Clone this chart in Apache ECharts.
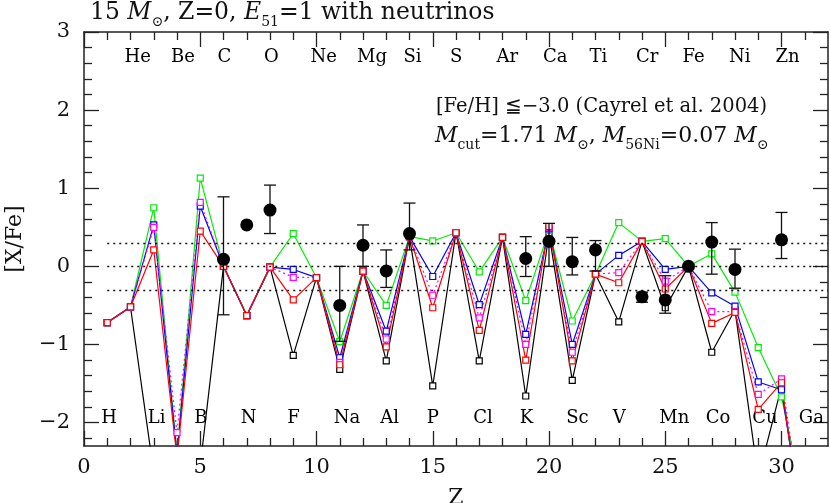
<!DOCTYPE html>
<html><head><meta charset="utf-8">
<script src="https://cdn.jsdelivr.net/npm/echarts@6/dist/echarts.min.js"></script>
<style>html,body{margin:0;padding:0;background:#fff}#c{width:830px;height:503px}</style>
</head><body><div id="c"></div>
<script>
// ---- data ----
const elements = ['H','He','Li','Be','B','C','N','O','F','Ne','Na','Mg','Al','Si','P','S','Cl','Ar','K','Ca','Sc','Ti','V','Cr','Mn','Fe','Co','Ni','Cu','Zn','Ga'];
const Zs = elements.map((e, i) => i + 1);
const modelBlack   = [-0.72,-0.52,-2.64,-5.0,-2.55,0.0,-0.63,-0.01,-1.14,-0.145,-1.32,-0.06,-1.21,0.38,-1.53,0.43,-1.21,0.37,-1.66,0.42,-1.46,-0.10,-0.71,0.32,-0.53,0.0,-1.10,-0.56,-2.7,-1.54,-3.5];
const modelGreen   = [-0.72,-0.52,0.75,-2.4,1.13,0.0,-0.63,-0.01,0.42,-0.145,-0.965,-0.06,-0.50,0.38,0.325,0.43,-0.07,0.37,-0.44,0.46,-0.70,-0.10,0.56,0.32,0.355,0.0,0.16,-0.33,-1.04,-1.67,-3.1];
const modelBlue    = [-0.72,-0.52,0.53,-2.4,0.77,0.0,-0.63,-0.01,-0.04,-0.145,-1.17,-0.06,-0.83,0.38,-0.13,0.43,-0.49,0.37,-0.87,0.48,-1.0,-0.10,0.14,0.32,-0.04,0.0,-0.34,-0.51,-1.48,-1.58,-3.5];
const modelMagenta = [-0.72,-0.52,0.50,-2.13,0.82,0.0,-0.63,-0.01,-0.14,-0.145,-1.23,-0.06,-0.93,0.38,-0.37,0.43,-0.66,0.37,-1.0,0.50,-1.10,-0.10,-0.08,0.32,-0.19,0.0,-0.58,-0.58,-1.64,-1.44,-3.4];
const modelRed     = [-0.72,-0.52,0.21,-2.45,0.45,0.0,-0.63,-0.01,-0.43,-0.145,-1.26,-0.06,-1.03,0.38,-0.53,0.43,-0.82,0.37,-1.20,0.51,-1.21,-0.10,-0.21,0.32,-0.29,0.0,-0.73,-0.59,-1.83,-1.49,-3.7];
const obsZ    = [6,7,8,11,12,13,14,19,20,21,22,24,25,26,27,28,30];
const obsVal  = [0.09,0.53,0.72,-0.50,0.27,-0.06,0.42,0.10,0.32,0.06,0.21,-0.39,-0.43,0.00,0.31,-0.04,0.34];
const obsLow  = [-0.62,null,0.42,-0.96,0.0,-0.27,0.21,-0.13,0.0,-0.11,-0.06,-0.46,-0.60,null,-0.10,-0.28,0.10];
const obsHigh = [0.89,null,1.04,0.0,0.53,0.21,0.81,0.38,0.55,0.37,0.33,-0.33,-0.12,null,0.56,0.22,0.69];
const refLines = [0.3, 0, -0.3];
const xMajor = [0,5,10,15,20,25,30];
const xMinor = [1,2,3,4,6,7,8,9,11,12,13,14,16,17,18,19,21,22,23,24,26,27,28,29,31];
const yMajor = [-2,-1,0,1,2,3];
const yMinor = [-2.2,-1.8,-1.6,-1.4,-1.2,-0.8,-0.6,-0.4,-0.2,0.2,0.4,0.6,0.8,1.2,1.4,1.6,1.8,2.2,2.4,2.6,2.8];
const X_MIN = 0, X_MAX = 32, Y_MIN = -2.3, Y_MAX = 3;
const LABEL_TOP_Y = 2.675, LABEL_BOT_Y = -1.95;

const FONT = 'DejaVu Serif';
const AX = '#222';
function fmt(v){ return v < 0 ? '\u2212' + Math.abs(v) : String(v); }

function xAxisDef(pos, vals, len, showLabel, showLine){
  return {type:'value', min:X_MIN, max:X_MAX, position:pos, splitLine:{show:false},
    axisLine:{show:showLine, onZero:false, lineStyle:{color:AX, width:1.5}},
    axisTick:{show:true, inside:true, length:len, customValues:vals, lineStyle:{color:AX, width:1.3}},
    axisLabel:{show:showLabel, customValues:vals, fontFamily:FONT, fontSize:21, color:'#111', margin:11},
    name: showLabel ? 'Z' : '', nameLocation:'middle', nameGap:41,
    nameTextStyle:{fontFamily:FONT, fontSize:22, color:'#111'}};
}
function yAxisDef(pos, vals, len, showLabel, showLine){
  return {type:'value', min:Y_MIN, max:Y_MAX, position:pos, splitLine:{show:false},
    axisLine:{show:showLine, onZero:false, lineStyle:{color:AX, width:1.5}},
    axisTick:{show:true, inside:true, length:len, customValues:vals, lineStyle:{color:AX, width:1.3}},
    axisLabel:{show:showLabel, customValues:vals, formatter:fmt, fontFamily:FONT, fontSize:21, color:'#111', margin:14},
    name: showLabel ? '[X/Fe]' : '', nameLocation:'middle', nameGap:58,
    nameTextStyle:{fontFamily:FONT, fontSize:22, color:'#111'}};
}
function model(name, vals, color, dotted){
  return {type:'line', name, data: Zs.map((z,i)=>[z, vals[i]]), xAxisIndex:0, yAxisIndex:0,
    symbol:'rect', symbolSize:6, showAllSymbol:true, z:3,
    lineStyle:{color, width:1.2, type: dotted ? [2,3] : 'solid'},
    itemStyle:{color:'#fff', borderColor:color, borderWidth:1.2},
    emphasis:{disabled:true}, animation:false, clip:true};
}

const chart = echarts.init(document.getElementById('c'), null, {renderer:'canvas'});
const sub = (fs) => ({fontFamily:FONT, fontSize:fs, fontWeight:'normal', lineHeight:32, verticalAlign:'bottom', color:'#111'});
const norm = (fs) => ({fontFamily:FONT, fontSize:fs, fontWeight:'normal', lineHeight:32, color:'#111'});
const ital = (fs) => ({fontFamily:FONT, fontSize:fs, fontWeight:'normal', fontStyle:'italic', lineHeight:32, color:'#111'});

chart.setOption({
  animation:false,
  backgroundColor:'#fff',
  grid:{left:84, right:2, top:32, bottom:57, containLabel:false, outerBoundsMode:'none'},
  title:[
    {left:85, top:-8, text:'{n|15 }{i|M}{s|\u2299}{n|, Z=0, }{i|E}{s|51}{n|=1 with neutrinos}',
     textStyle:{fontWeight:'normal', rich:{n:norm(23.5), i:ital(23.5), s:sub(14)}}},
    {left:431, top:86, text:'{n|[Fe/H] \u2266\u22123.0 (Cayrel et al. 2004)}',
     textStyle:{fontWeight:'normal', rich:{n:norm(19.5)}}},
    {left:430, top:115, text:'{i|M}{s|cut}{n|=1.71 }{i|M}{s|\u2299}{n|, }{i|M}{s|56Ni}{n|=0.07 }{i|M}{s|\u2299}',
     textStyle:{fontWeight:'normal', rich:{n:norm(22), i:ital(22), s:sub(14)}}}
  ],
  xAxis:[
    xAxisDef('bottom', xMajor, 15, true, true),
    xAxisDef('bottom', xMinor, 8, false, false),
    xAxisDef('top', xMajor, 15, false, true),
    xAxisDef('top', xMinor, 8, false, false)
  ],
  yAxis:[
    yAxisDef('left', yMajor, 15, true, true),
    yAxisDef('left', yMinor, 8, false, false),
    yAxisDef('right', yMajor, 15, false, true),
    yAxisDef('right', yMinor, 8, false, false)
  ],
  series:[
    {type:'scatter', name:'elements', silent:true, symbolSize:1, z:1, itemStyle:{color:'rgba(0,0,0,0)', opacity:1},
     data: elements.map((e,i)=>[Zs[i], Zs[i] % 2 === 0 ? LABEL_TOP_Y : LABEL_BOT_Y, e]),
     label:{show:true, position:'inside', align:'left', offset:[-6,0], formatter:p=>p.data[2], fontFamily:FONT, fontSize:18, color:'#000', opacity:1}},
    {type:'line', name:'ref', data:[], silent:true, z:2,
     markLine:{silent:true, symbol:['none','none'], label:{show:false},
       lineStyle:{color:'#111', type:[2,4], width:1.4},
       data: refLines.map(v=>[{coord:[1, v]},{coord:[X_MAX, v]}])}},
    model('black', modelBlack, '#000000', false),
    model('green', modelGreen, '#00ee00', false),
    model('blue', modelBlue, '#0000ff', false),
    model('magenta', modelMagenta, '#ff00ff', true),
    model('red', modelRed, '#ff0000', false),
    {type:'custom', name:'err', silent:true, z:10,
     data: obsZ.map((z,i)=>[z, obsLow[i], obsHigh[i]]).filter(d=>d[1]!==null),
     renderItem:(params, api)=>{
       const x = api.value(0), lo = api.value(1), hi = api.value(2);
       const p1 = api.coord([x, lo]), p2 = api.coord([x, hi]);
       const w = 6, st = {stroke:'#111', lineWidth:1.3};
       return {type:'group', children:[
         {type:'line', shape:{x1:p1[0], y1:p1[1], x2:p2[0], y2:p2[1]}, style:st},
         {type:'line', shape:{x1:p1[0]-w, y1:p1[1], x2:p1[0]+w, y2:p1[1]}, style:st},
         {type:'line', shape:{x1:p2[0]-w, y1:p2[1], x2:p2[0]+w, y2:p2[1]}, style:st}
       ]};
     }},
    {type:'scatter', name:'Cayrel', symbol:'circle', symbolSize:13, z:11, itemStyle:{color:'#000', opacity:1},
     data: obsZ.map((z,i)=>[z, obsVal[i]])}
  ]
});
</script></body></html>
